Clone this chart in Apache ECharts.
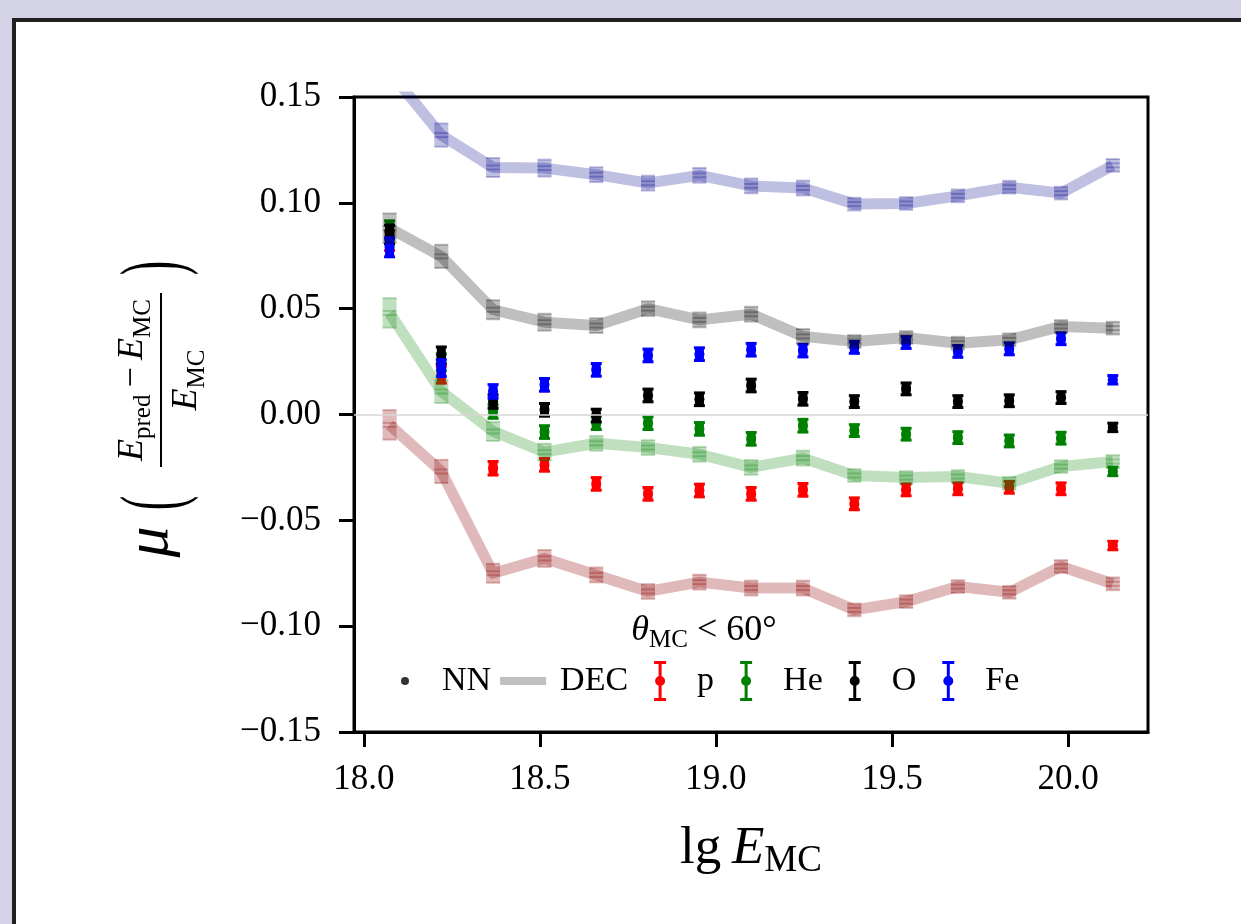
<!DOCTYPE html>
<html>
<head>
<meta charset="utf-8">
<script src="https://cdn.jsdelivr.net/npm/echarts@6/dist/echarts.min.js"></script>
<style>
html, body { margin: 0; padding: 0; background: #d3d2e6; overflow: hidden; }
#frame { position: absolute; left: 12px; top: 18px; width: 1240px; height: 920px; background: #fff;
         border-left: 4px solid #231f20; border-top: 4px solid #231f20; }
#chart { position: absolute; left: 0; top: 0; width: 1241px; height: 924px; }
</style>
</head>
<body>
<div id="frame"></div>
<div id="chart"></div>
<script>
// bin centres in lg(E_MC)
var lgE = [18.073, 18.220, 18.367, 18.513, 18.660, 18.807, 18.953, 19.100, 19.247, 19.393, 19.540, 19.687, 19.833, 19.980, 20.127];
var xTicks = [18.0, 18.5, 19.0, 19.5, 20.0];
var yTicks = [-0.15, -0.10, -0.05, 0.00, 0.05, 0.10, 0.15];

// NN bias per primary
var nnP  = [0.082, 0.0188, -0.0254, -0.0238, -0.0328, -0.0375, -0.0359, -0.0375, -0.0356, -0.0422, -0.0356, -0.0351, -0.0344, -0.0351, -0.0619];
var nnHe = [0.087, 0.0247, 0.0014, -0.0083, -0.0041, -0.0041, -0.0068, -0.0115, -0.0053, -0.0076, -0.0093, -0.0109, -0.0125, -0.0112, -0.0269];
var nnO  = [0.085, 0.0279, 0.0061, 0.0022, -0.0005, 0.0090, 0.0072, 0.0137, 0.0074, 0.0061, 0.0121, 0.0061, 0.0065, 0.0080, -0.0061];
var nnFe = [0.079, 0.0219, 0.0109, 0.0140, 0.0211, 0.0279, 0.0285, 0.0306, 0.0302, 0.0317, 0.0340, 0.0298, 0.0310, 0.0358, 0.0164];
var nnErr = [0.0045, 0.004, 0.0032, 0.003, 0.003, 0.003, 0.003, 0.003, 0.003, 0.0028, 0.0028, 0.0028, 0.0028, 0.0028, 0.002];

// DEC bias per primary
var decP  = [-0.0049, -0.0269, -0.0750, -0.0680, -0.0758, -0.0836, -0.0792, -0.0820, -0.0820, -0.0923, -0.0884, -0.0813, -0.0840, -0.0718, -0.0800];
var decHe = [0.0480, 0.0109, -0.0080, -0.0178, -0.0136, -0.0156, -0.0188, -0.0250, -0.0206, -0.0288, -0.0298, -0.0293, -0.0325, -0.0246, -0.0222];
var decO  = [0.0880, 0.0747, 0.0495, 0.0436, 0.0420, 0.0500, 0.0447, 0.0474, 0.0369, 0.0345, 0.0364, 0.0337, 0.0353, 0.0416, 0.0408];
var decFe = [0.1620, 0.1320, 0.1167, 0.1164, 0.1133, 0.1093, 0.1130, 0.1080, 0.1070, 0.0994, 0.0997, 0.1033, 0.1074, 0.1046, 0.1177];
var decErr = [0.007, 0.0055, 0.0045, 0.004, 0.0035, 0.0035, 0.0035, 0.0035, 0.0035, 0.003, 0.003, 0.003, 0.003, 0.003, 0.003];

var serif = "'Liberation Serif', 'DejaVu Serif', serif";

function rows(vals, errs) {
    return lgE.map(function (x, i) { return [x, vals[i], errs[i]]; });
}

// NN: points with (chunky) error bars
function nnBar(params, api) {
    var x = api.value(0), y = api.value(1), e = api.value(2);
    var mid = api.coord([x, y]);
    var top = api.coord([x, y + e]);
    var bot = api.coord([x, y - e]);
    var color = api.visual('color');
    var cap = { stroke: color, lineWidth: 3 };
    return {
        type: 'group',
        children: [
            { type: 'rect', shape: { x: mid[0] - 4.5, y: top[1], width: 9, height: bot[1] - top[1] }, style: { fill: color } },
            { type: 'line', shape: { x1: mid[0] - 5.5, y1: top[1], x2: mid[0] + 5.5, y2: top[1] }, style: cap },
            { type: 'line', shape: { x1: mid[0] - 5.5, y1: bot[1], x2: mid[0] + 5.5, y2: bot[1] }, style: cap },
            { type: 'circle', shape: { cx: mid[0], cy: mid[1], r: 5 }, style: { fill: color } }
        ]
    };
}

// DEC: translucent error boxes on top of the thick line
function decBar(params, api) {
    var x = api.value(0), y = api.value(1), e = api.value(2);
    var mid = api.coord([x, y]);
    var top = api.coord([x, y + e]);
    var bot = api.coord([x, y - e]);
    var cs = params.coordSys;
    if (top[1] < cs.y) return null;
    var color = api.visual('color');
    return {
        type: 'group',
        children: [
            { type: 'rect', shape: { x: mid[0] - 7, y: top[1], width: 14, height: bot[1] - top[1] }, style: { fill: color } },
            { type: 'line', shape: { x1: mid[0] - 7, y1: top[1], x2: mid[0] + 7, y2: top[1] }, style: { stroke: color, lineWidth: 2 } },
            { type: 'line', shape: { x1: mid[0] - 7, y1: bot[1], x2: mid[0] + 7, y2: bot[1] }, style: { stroke: color, lineWidth: 2 } },
            { type: 'line', shape: { x1: mid[0] - 7, y1: mid[1] - 2, x2: mid[0] + 7, y2: mid[1] - 2 }, style: { stroke: color, lineWidth: 2 } },
            { type: 'line', shape: { x1: mid[0] - 7, y1: mid[1] + 2, x2: mid[0] + 7, y2: mid[1] + 2 }, style: { stroke: color, lineWidth: 2 } }
        ]
    };
}

var species = [
    { name: 'p',  nn: nnP,  dec: decP,  color: '#ff0000', decColor: 'rgba(139,0,0,0.27)' },
    { name: 'He', nn: nnHe, dec: decHe, color: '#008000', decColor: 'rgba(0,128,0,0.25)' },
    { name: 'O',  nn: nnO,  dec: decO,  color: '#000000', decColor: 'rgba(0,0,0,0.25)' },
    { name: 'Fe', nn: nnFe, dec: decFe, color: '#0000ff', decColor: 'rgba(0,0,139,0.25)' }
];

var series = [
    {
        name: 'NN', type: 'scatter', data: [], itemStyle: { color: '#000' }, z: 1,
        markLine: {
            silent: true, symbol: ['none', 'none'], label: { show: false },
            lineStyle: { color: '#d6d6d6', width: 1.5, type: 'solid' },
            data: [{ yAxis: 0 }]
        }
    },
    { name: 'DEC', type: 'line', data: [], itemStyle: { color: '#bfbfbf' }, lineStyle: { color: '#bfbfbf' } }
];
species.forEach(function (s) {
    series.push({
        name: s.name, type: 'custom', renderItem: nnBar, data: rows(s.nn, nnErr),
        encode: { x: 0, y: 1 }, itemStyle: { color: s.color }, z: 2, silent: true
    });
});
species.forEach(function (s) {
    series.push({
        name: 'DEC ' + s.name, type: 'line', data: rows(s.dec, decErr), symbol: 'none',
        lineStyle: { color: s.decColor, width: 11, join: 'round' }, itemStyle: { color: s.decColor },
        clip: true, z: 3, silent: true
    });
    series.push({
        name: 'DEC ' + s.name, type: 'custom', renderItem: decBar, data: rows(s.dec, decErr),
        encode: { x: 0, y: 1 }, itemStyle: { color: s.decColor }, z: 4, silent: true
    });
});

// legend icons, all in a 64x40 box
var dotIcon  = 'path://M0 0M28 20a4 4 0 1 1 8 0a4 4 0 1 1 -8 0zM64 40';
var lineIcon = 'path://M0 0M9 16h46v8h-46zM64 40';
var barIcon  = 'path://M0 0M26 0h12v3h-12zM30.5 0h3v40h-3zM26 37h12v3h-12zM27 20a5 5 0 1 1 10 0a5 5 0 1 1 -10 0zM64 40';

var tickFont = { fontFamily: serif, fontSize: 35, color: '#000' };
var mathRich = {
    i: { fontFamily: serif, fontStyle: 'italic', fontSize: 36, lineHeight: 46, color: '#000', fill: '#000' },
    r: { fontFamily: serif, fontSize: 36, lineHeight: 46, color: '#000', fill: '#000' },
    s: { fontFamily: serif, fontSize: 25, verticalAlign: 'bottom', color: '#000', fill: '#000' }
};
var parenStyle = { fontFamily: serif, fontSize: 86, align: 'center', verticalAlign: 'middle', fill: '#000' };

var chart = echarts.init(document.getElementById('chart'));
chart.setOption({
    animation: false,
    backgroundColor: 'transparent',
    grid: { left: 354, right: 93, top: 97, bottom: 192, show: true, borderColor: '#000', borderWidth: 3 },
    xAxis: {
        type: 'value', min: 17.972, max: 20.227,
        axisLine: { show: true, onZero: false, lineStyle: { color: '#000', width: 3 } },
        axisTick: { show: true, length: 15, customValues: xTicks, lineStyle: { color: '#000', width: 3 } },
        axisLabel: Object.assign({ margin: 30, customValues: xTicks, formatter: function (v) { return v.toFixed(1); } }, tickFont),
        splitLine: { show: false },
        name: '{r|lg\u2009}{i|E}{s|MC}', nameLocation: 'middle', nameGap: 86,
        nameTextStyle: {
            rich: {
                i: { fontFamily: serif, fontStyle: 'italic', fontSize: 53, lineHeight: 62, color: '#000' },
                r: { fontFamily: serif, fontSize: 53, lineHeight: 62, color: '#000' },
                s: { fontFamily: serif, fontSize: 37, verticalAlign: 'bottom', color: '#000' }
            }
        }
    },
    yAxis: {
        type: 'value', min: -0.15, max: 0.15, interval: 0.05,
        axisLine: { show: true, onZero: false, lineStyle: { color: '#000', width: 3 } },
        axisTick: { show: true, length: 15, lineStyle: { color: '#000', width: 3 } },
        axisLabel: Object.assign({ margin: 33, formatter: function (v) {
            var a = Math.abs(v).toFixed(2);
            return (v < -1e-9 ? '\u2212' : '') + a;
        } }, tickFont),
        splitLine: { show: false }
    },
    legend: {
        left: 373, top: 661, padding: 0, itemGap: 0, itemWidth: 64, itemHeight: 40,
        selectedMode: false,
        itemStyle: { borderWidth: 0 },
        textStyle: { fontFamily: serif, fontSize: 34, color: '#000' },
        data: [
            { name: 'NN', icon: dotIcon, itemStyle: { color: '#000', borderWidth: 0 } },
            { name: 'DEC', icon: lineIcon, itemStyle: { color: '#bfbfbf', borderWidth: 0 } },
            { name: 'p', icon: barIcon, itemStyle: { color: '#ff0000', borderWidth: 0 } },
            { name: 'He', icon: barIcon, itemStyle: { color: '#008000', borderWidth: 0 } },
            { name: 'O', icon: barIcon, itemStyle: { color: '#000000', borderWidth: 0 } },
            { name: 'Fe', icon: barIcon, itemStyle: { color: '#0000ff', borderWidth: 0 } }
        ]
    },
    graphic: [
        {
            type: 'text', x: 704, y: 631,
            style: {
                text: '{i|\u03b8}{s|MC}{r| < 60\u00b0}', align: 'center', verticalAlign: 'middle',
                rich: {
                    i: { fontFamily: serif, fontStyle: 'italic', fontSize: 36, lineHeight: 44, fill: '#000' },
                    r: { fontFamily: serif, fontSize: 36, lineHeight: 44, fill: '#000' },
                    s: { fontFamily: serif, fontSize: 25, verticalAlign: 'bottom', fill: '#000' }
                }
            }
        },
        {
            type: 'group', x: 165, y: 405, rotation: Math.PI / 2,
            children: [
                { type: 'text', x: -137, y: -14, style: { text: '\u03bc', fontFamily: serif, fontStyle: 'italic', fontSize: 62, align: 'center', verticalAlign: 'middle', fill: '#000' } },
                { type: 'text', x: -98, y: -8, scaleX: 0.5, style: Object.assign({ text: '(' }, parenStyle) },
                { type: 'text', x: 25, y: -32, style: { text: '{i|E}{s|pred}{r|\u2009\u2212\u2009}{i|E}{s|MC}', align: 'center', verticalAlign: 'middle', rich: mathRich } },
                { type: 'line', shape: { x1: -62, y1: -4, x2: 112, y2: -4 }, style: { stroke: '#000', lineWidth: 2 } },
                { type: 'text', x: 25, y: 22, style: { text: '{i|E}{s|MC}', align: 'center', verticalAlign: 'middle', rich: mathRich } },
                { type: 'text', x: 137, y: -8, scaleX: 0.5, style: Object.assign({ text: ')' }, parenStyle) }
            ]
        }
    ],
    series: series
});
</script>
</body>
</html>
